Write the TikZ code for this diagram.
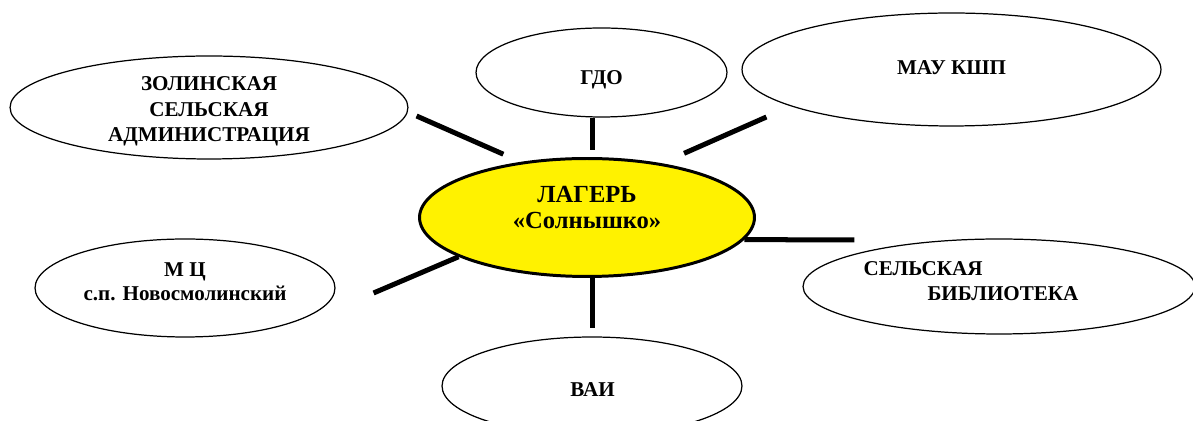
\documentclass[tikz,border=0pt]{standalone}
\usepackage{fontspec}
\setmainfont{Liberation Serif}
\usetikzlibrary{shapes.geometric,backgrounds}
\tikzset{bubble/.style={ellipse, draw=black, line width=0.7pt, fill=white, inner sep=0pt},
  hub/.style={ellipse, draw=black, line width=1.7pt, fill=yellow, inner sep=0pt},
  nametext/.style={font=\bfseries\fontsize{12}{14.5}\selectfont, align=center, inner sep=0pt},
  link/.style={line width=2.85pt},}
\begin{document}
\begin{tikzpicture}[x=0.02cm, y=-0.02cm]
\useasboundingbox (0,0) rectangle (1193,421);
\node [hub, minimum width=6.7cm, minimum height=2.36cm] (lag) at (587,217.5) {};
\node [bubble, minimum width=7.96cm, minimum height=2.06cm] (zol) at (209,107.5) {};
\node [bubble, minimum width=5.02cm, minimum height=1.78cm] (gdo) at (601.5,72.5) {};
\node [bubble, minimum width=8.38cm, minimum height=2.26cm] (mau) at (951.5,69.5) {};
\node [bubble, minimum width=6cm, minimum height=1.96cm] (mc) at (185,288) {};
\node [bubble, minimum width=7.84cm, minimum height=1.9cm] (sel) at (999,286.5) {};
\node [bubble, minimum width=6cm, minimum height=1.96cm] (vai) at (592,386) {};
\node [nametext, font=\bfseries\fontsize{14}{14.8}\selectfont] (lagTxt) at ([shift={(0,-10)}]lag) {ЛАГЕРЬ\\«Солнышко»};
\node [nametext] (zolTxt) at ([shift={(0,4)}]zol) {ЗОЛИНСКАЯ\\СЕЛЬСКАЯ\\АДМИНИСТРАЦИЯ};
\node [nametext] (gdoTxt) at ([shift={(0,7.5)}]gdo) {ГДО};
\node [nametext] (mauTxt) at ([shift={(0,-1.5)}]mau) {МАУ КШП};
\node [nametext, font=\bfseries\fontsize{12}{13.6}\selectfont] (mcTxt) at ([shift={(0,-6)}]mc) {М Ц\\с.п. Новосмолинский};
\node [nametext, align=left] (selTxt) at ([shift={(-28,-5.5)}]sel) {СЕЛЬСКАЯ\\\hspace*{1.28cm}БИБЛИОТЕКА};
\node [nametext] (vaiTxt) at ([shift={(0.5,4)}]vai) {ВАИ};
\coordinate (zolEnd) at ([shift={(8,8.5)}]zol.east);
\coordinate (mauEnd) at ([shift={(25,47.5)}]mau.west);
\coordinate (selEnd) at ([shift={(52,-46.5)}]sel.west);
\coordinate (mcEnd) at ([shift={(38,5)}]mc.east);
\begin{scope}[on background layer]
\draw[link, shorten <=0.38cm] (lag.140.9) -- (zolEnd);
\draw[link, shorten <=0.15cm] (lag.85.2) -- (lag.85.2 |- gdo.south);
\draw[link, shorten <=0.49cm] (lag.36.6) -- (mauEnd);
\draw[link] (lag.-8.2) -- (selEnd);
\draw[link, shorten >=0.16cm] (lag.-85.2) -- (lag.-85.2 |- vai.north);
\draw[link] (lag.197.4) -- (mcEnd);
\end{scope}
\end{tikzpicture}
\end{document}
